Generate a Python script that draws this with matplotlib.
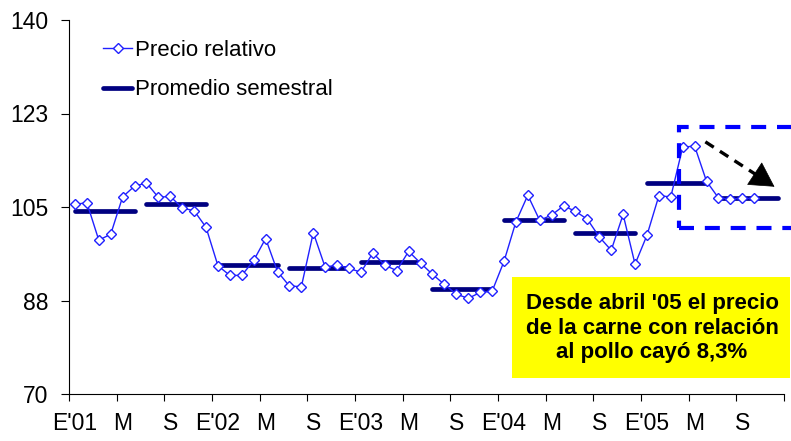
import numpy as np
import matplotlib
matplotlib.use('Agg')
import matplotlib.pyplot as plt
from matplotlib.patches import Rectangle

plt.rcParams['font.family'] = ['Liberation Sans', 'DejaVu Sans']

# precio relativo carne/pollo, mensual desde enero 2001
precio = [105.5, 105.8, 98.8, 99.9, 106.9, 108.9, 109.5, 106.8, 107.0, 104.8, 104.3, 101.2,
          94.0, 92.2, 92.2, 95.0, 99.1, 92.9, 90.2, 90.1, 100.2, 93.7, 94.2, 93.5,
          92.8, 96.4, 94.1, 93.1, 96.7, 94.5, 92.4, 90.5, 88.7, 87.9, 89.0, 89.2,
          94.8, 102.2, 107.2, 102.5, 103.5, 105.2, 104.2, 102.7, 99.4, 96.9, 103.6, 94.3,
          99.7, 107.1, 106.9, 116.2, 116.4, 109.8, 106.7, 106.5, 106.6, 106.6]
promedio = [104.3, 105.6, 94.2, 93.6, 94.7, 89.7, 102.6, 100.2, 109.4, 106.6]
xlabels = ["E'01", 'M', 'S', "E'02", 'M', 'S', "E'03", 'M', 'S',
           "E'04", 'M', 'S', "E'05", 'M', 'S']
yticks = [70, 87.5, 105, 122.5, 140]
ylabels = ['70', '88', '105', '123', '140']
nota = "Desde abril '05 el precio\nde la carne con relación\nal pollo cayó 8,3%"

fig = plt.figure(figsize=(7.91, 4.41), dpi=100)
ax = fig.add_axes([69 / 791, 1 - 394 / 441, 715 / 791, 374 / 441])

x = np.arange(len(precio))
ax.plot(x, precio, color='#2020FF', lw=1.0, marker='D', markersize=4.8,
        markerfacecolor='white', markeredgecolor='#2020FF', markeredgewidth=1.0,
        label='Precio relativo', zorder=3)
for k, v in enumerate(promedio):
    ax.plot([6 * k, 6 * k + 5], [v, v], color='#000080', lw=3.4,
            solid_capstyle='round', label='Promedio semestral' if k == 0 else None, zorder=2)

ax.set_xlim(-0.5, 59.5)
ax.set_ylim(70, 140)
ax.set_yticks(yticks)
ax.set_yticklabels(ylabels)
ax.set_xticks(np.arange(-0.5, 60, 4))
ax.set_xticklabels([])
ax.set_xticks(np.arange(0, 60, 4), minor=True)
ax.set_xticklabels(xlabels, minor=True)
ax.tick_params(axis='x', which='minor', length=0, pad=13, labelsize=16.5)
ax.tick_params(axis='x', which='major', length=5, direction='out')
ax.tick_params(axis='y', length=6, direction='out', labelsize=16.5, pad=9)
for s in ['top', 'right']:
    ax.spines[s].set_visible(False)

leg = ax.legend(loc='upper left', bbox_to_anchor=(92 / 791, 1 - 29 / 441),
                bbox_transform=fig.transFigure, frameon=False, fontsize=16,
                handlelength=1.3, handletextpad=0.15, labelspacing=0.82, borderpad=0)

# recuadro punteado y flecha
ax.add_patch(Rectangle((50.7, 101.1), 12, 18.9, fill=False, edgecolor='#0000FF',
                       lw=3, ls=(0, (3.6, 2.6)), clip_on=False, zorder=4))
ax.plot([52.9, 57.4], [117.2, 110.7], color='black', lw=2.4, ls=(0, (3, 2.2)),
        solid_capstyle='butt', zorder=4)
ax.annotate('', xy=(58.7, 108.8), xytext=(57.3, 110.85),
            arrowprops=dict(arrowstyle='-|>,head_length=0.75,head_width=0.42',
                            lw=0.5, color='black', mutation_scale=22, shrinkA=0, shrinkB=0),
            annotation_clip=False, zorder=4)

fig.patches.append(Rectangle((512 / 791, 1 - 378 / 441), 278 / 791, 101 / 441,
                             transform=fig.transFigure, facecolor='#FFFF00',
                             edgecolor='none', zorder=5))
fig.text(652 / 791, 1 - 328 / 441, nota, ha='center', va='center', fontsize=16,
         fontweight='bold', linespacing=1.2, zorder=6)

fig.savefig('out.png', dpi=100)
